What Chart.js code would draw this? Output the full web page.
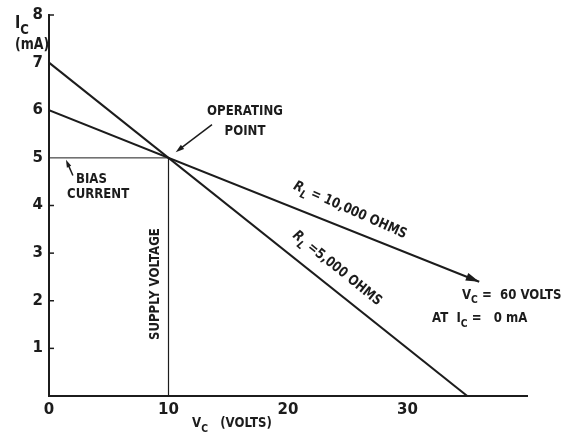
<!DOCTYPE html>
<html>
<head>
<meta charset="utf-8">
<script src="https://cdn.jsdelivr.net/npm/chart.js@4"></script>
<style>
  html, body { margin: 0; padding: 0; background: #fff; }
  #wrap { width: 569px; height: 433px; }
</style>
</head>
<body>
<div id="wrap"><canvas id="loadLine" width="569" height="433"></canvas></div>
<script>
// ---- data ----
const vcLoad5k = [0, 35];        // R_L = 5,000 ohms
const icLoad5k = [7, 0];
const vcLoad10k = [0, 36];       // R_L = 10,000 ohms (arrow continues to 60 V)
const icLoad10k = [6, 2.4];
const operatingPoint = [10, 5];  // V_C, I_C
const xTickValues = [0, 10, 20, 30];
const yTickValues = [1, 2, 3, 4, 5, 6, 7, 8];
const yMarkTicks = [1, 2, 3, 4, 8];

const INK = "#1c1c1c";
const FONT = "'DejaVu Sans', sans-serif";
const SQUEEZE = 0.84; // 손글씨 느낌의 좁은 글자

const toPoints = (xs, ys) => xs.map((x, i) => ({ x, y: ys[i] }));

// =========================
// 텍스트 그리기 (아래첨자 포함)
// =========================
function drawRich(ctx, x, y, segments, size, align = "left", angle = 0) {
  ctx.save();
  ctx.translate(x, y);
  ctx.rotate(angle);
  ctx.scale(SQUEEZE, 1);
  ctx.fillStyle = INK;
  ctx.textBaseline = "middle";
  ctx.textAlign = "left";

  const fontFor = (seg) =>
    `${seg.italic ? "italic " : ""}bold ${seg.sub ? Math.round(size * 0.8) : size}px ${FONT}`;

  let total = 0;
  segments.forEach((seg) => {
    ctx.font = fontFor(seg);
    total += ctx.measureText(seg.t).width;
  });

  let cx = align === "center" ? -total / 2 : 0;
  segments.forEach((seg) => {
    ctx.font = fontFor(seg);
    ctx.fillText(seg.t, cx, seg.sub ? size * 0.4 : 0);
    cx += ctx.measureText(seg.t).width;
  });
  ctx.restore();
}

function drawArrow(ctx, x1, y1, x2, y2, head, width) {
  const a = Math.atan2(y2 - y1, x2 - x1);
  ctx.save();
  ctx.strokeStyle = INK;
  ctx.fillStyle = INK;
  ctx.lineWidth = width;
  if (width > 0) {
    ctx.beginPath();
    ctx.moveTo(x1, y1);
    ctx.lineTo(x2 - Math.cos(a) * head * 0.6, y2 - Math.sin(a) * head * 0.6);
    ctx.stroke();
  }
  ctx.beginPath();
  ctx.moveTo(x2, y2);
  ctx.lineTo(x2 - head * Math.cos(a - 0.3), y2 - head * Math.sin(a - 0.3));
  ctx.lineTo(x2 - head * Math.cos(a + 0.3), y2 - head * Math.sin(a + 0.3));
  ctx.closePath();
  ctx.fill();
  ctx.restore();
}

// =========================
// 주석, 축 눈금 플러그인
// =========================
const annotationPlugin = {
  id: "annotations",
  afterDraw(chart) {
    const { ctx } = chart;
    const xs = chart.scales.x;
    const ys = chart.scales.y;
    const px = (v) => xs.getPixelForValue(v);
    const py = (v) => ys.getPixelForValue(v);

    // y축 오른쪽 작은 눈금
    ctx.save();
    ctx.strokeStyle = INK;
    ctx.lineWidth = 1.5;
    yMarkTicks.forEach((v) => {
      ctx.beginPath();
      ctx.moveTo(px(0), py(v));
      ctx.lineTo(px(0) + 5, py(v));
      ctx.stroke();
    });
    ctx.restore();

    // 10,000 ohm 선 끝 화살표
    const last = vcLoad10k.length - 1;
    drawArrow(ctx, px(vcLoad10k[0]), py(icLoad10k[0]),
      px(vcLoad10k[last]), py(icLoad10k[last]), 14, 0);

    // operating point
    drawRich(ctx, px(16.4), py(5.97), [{ t: "OPERATING" }], 14, "center");
    drawRich(ctx, px(16.4), py(5.55), [{ t: "POINT" }], 14, "center");
    drawArrow(ctx, px(13.64), py(5.7), px(operatingPoint[0] + 0.6), py(operatingPoint[1] + 0.12), 9, 1.5);

    // bias current
    drawRich(ctx, px(2.26), py(4.54), [{ t: "BIAS" }], 14);
    drawRich(ctx, px(1.51), py(4.23), [{ t: "CURRENT" }], 14);
    drawArrow(ctx, px(2.0), py(4.63), px(1.42), py(4.96), 8, 1.5);

    // supply voltage
    drawRich(ctx, px(8.87), py(2.35), [{ t: "SUPPLY VOLTAGE" }], 14, "center", -Math.PI / 2);

    // load line labels
    drawRich(ctx, px(25.2), py(3.9),
      [{ t: "R", italic: true }, { t: "L", sub: true, italic: true }, { t: " = 10,000 OHMS" }],
      14, "center", (24 * Math.PI) / 180);
    drawRich(ctx, px(24.1), py(2.68),
      [{ t: "R", italic: true }, { t: "L", sub: true, italic: true }, { t: " =5,000 OHMS" }],
      14, "center", (39 * Math.PI) / 180);

    drawRich(ctx, px(34.56), py(2.12),
      [{ t: "V" }, { t: "C", sub: true }, { t: " =  60 VOLTS" }], 14);
    drawRich(ctx, px(32.05), py(1.63),
      [{ t: "AT  I" }, { t: "C", sub: true }, { t: " =   0 mA" }], 14);

    // 축 제목
    drawRich(ctx, px(-2.85), py(7.83), [{ t: "I" }, { t: "C", sub: true }], 17);
    drawRich(ctx, px(-2.85), py(7.37), [{ t: "(mA)" }], 15);
    drawRich(ctx, px(11.97), py(-0.57), [{ t: "V" }, { t: "C", sub: true }, { t: "   (VOLTS)" }], 14);
  },
};

// =========================
// 차트 생성
// =========================
const lineStyle = (width) => ({
  showLine: true,
  borderColor: INK,
  backgroundColor: INK,
  borderWidth: width,
  pointRadius: 0,
  fill: false,
  tension: 0,
});

new Chart(document.getElementById("loadLine"), {
  type: "scatter",
  data: {
    datasets: [
      { label: "R_L 5,000", data: toPoints(vcLoad5k, icLoad5k), ...lineStyle(2) },
      { label: "R_L 10,000", data: toPoints(vcLoad10k, icLoad10k), ...lineStyle(2) },
      {
        label: "bias current",
        data: toPoints([0, operatingPoint[0]], [operatingPoint[1], operatingPoint[1]]),
        ...lineStyle(1),
      },
      {
        label: "supply voltage",
        data: toPoints([operatingPoint[0], operatingPoint[0]], [0, operatingPoint[1]]),
        ...lineStyle(1.2),
      },
    ],
  },
  options: {
    responsive: false,
    animation: false,
    devicePixelRatio: 1,
    layout: { padding: { top: 14, right: 42, left: 0, bottom: 0 } },
    plugins: {
      legend: { display: false },
      tooltip: { enabled: false },
    },
    scales: {
      x: {
        type: "linear",
        min: 0,
        max: 40,
        afterFit: (s) => { s.height = 37; },
        afterBuildTicks: (s) => { s.ticks = xTickValues.map((value) => ({ value })); },
        grid: { display: false, drawTicks: false },
        border: { display: true, color: INK, width: 2 },
        ticks: {
          color: INK,
          padding: 5,
          font: { family: FONT, size: 15, weight: "bold" },
        },
      },
      y: {
        type: "linear",
        min: 0,
        max: 8,
        afterFit: (s) => { s.width = 49; },
        afterBuildTicks: (s) => { s.ticks = yTickValues.map((value) => ({ value })); },
        grid: { display: false, drawTicks: false },
        border: { display: true, color: INK, width: 2 },
        ticks: {
          color: INK,
          padding: 6,
          font: { family: FONT, size: 15, weight: "bold" },
        },
      },
    },
  },
  plugins: [annotationPlugin],
});
</script>
</body>
</html>
